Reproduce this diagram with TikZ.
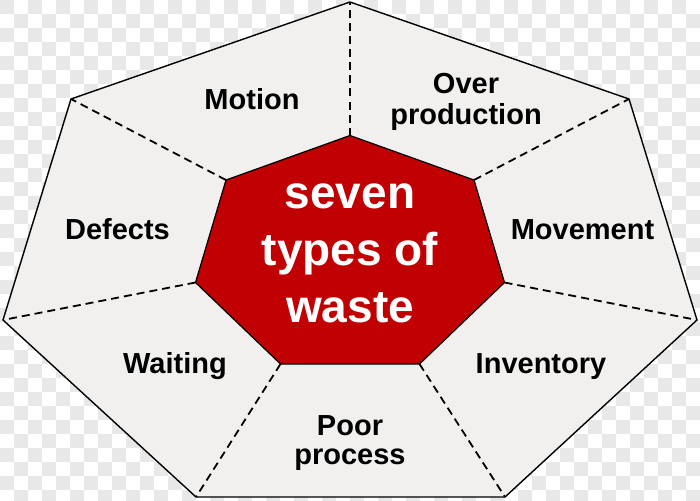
\documentclass[tikz,border=0pt]{standalone}
\usepackage{fontspec}
\setmainfont{Liberation Sans}
\definecolor{checkgray}{RGB}{232,232,232}
\definecolor{panelfill}{RGB}{241,240,239}
\definecolor{wastered}{RGB}{192,0,2}
\tikzset{
  panel/.style={fill=panelfill, draw=black, line width=1.4pt, line join=miter},
  core/.style={fill=wastered, draw=black, line width=1.2pt},
  divider/.style={draw=black, line width=1.8pt, dash pattern=on 8pt off 5pt},
  lbl/.style={anchor=base, inner sep=0pt, font=\fontsize{29}{31}\selectfont\bfseries, text=black},
  corelbl/.style={anchor=base, inner sep=0pt, font=\fontsize{46}{52}\selectfont\bfseries, text=white}
}
\begin{document}
\begin{tikzpicture}[x=1pt,y=-1pt]
\useasboundingbox (0,0) rectangle (700,500);
% checkerboard background
\fill[white] (0,0) rectangle (700,500);
\foreach \i in {0,...,49}{
  \foreach \j in {0,...,35}{
    \pgfmathtruncatemacro\k{mod(\i+\j,2)}
    \ifnum\k=0 \fill[checkgray] (\i*14,\j*14) rectangle ++(14,14);\fi
  }
}
% outer heptagon
\coordinate (o1) at (350,2);
\coordinate (o2) at (629,99);
\coordinate (o3) at (697,320);
\coordinate (o4) at (505,497);
\coordinate (o5) at (196,497);
\coordinate (o6) at (3,320);
\coordinate (o7) at (71,99);
% inner heptagon
\coordinate (i1) at (350,135.5);
\coordinate (i2) at (474,180);
\coordinate (i3) at (504.5,282.5);
\coordinate (i4) at (419.5,364);
\coordinate (i5) at (280.5,364);
\coordinate (i6) at (195.5,282.5);
\coordinate (i7) at (226,180);
\path[panel] (o1) -- (o2) -- (o3) -- (o4) -- (o5) -- (o6) -- (o7) -- cycle;
\foreach \n in {1,...,7}{\draw[divider] (i\n) -- (o\n);}
\path[core] (i1) -- (i2) -- (i3) -- (i4) -- (i5) -- (i6) -- (i7) -- cycle;
% labels
\node[lbl] (motion) at (252,110) {Motion};
\node[lbl] (over) at (466,93) {Over};
\node[lbl] (production) at (466,124) {production};
\node[lbl] (movement) at (582.5,239) {Movement};
\node[lbl] (inventory) at (541,373) {Inventory};
\node[lbl] (poor) at (350,435) {Poor};
\node[lbl] (process) at (350,464) {process};
\node[lbl] (waiting) at (175,373) {Waiting};
\node[lbl] (defects) at (117.5,239) {Defects};
% core text
\node[corelbl] (seven) at (350,208) {seven};
\node[corelbl] (types) at (350,265) {types of};
\node[corelbl] (waste) at (350,322) {waste};
\end{tikzpicture}
\end{document}
